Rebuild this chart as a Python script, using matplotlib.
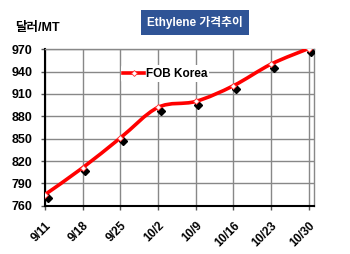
import numpy as np
import matplotlib
matplotlib.use("Agg")
import matplotlib.pyplot as plt
from matplotlib.path import Path
from matplotlib.patches import PathPatch
from matplotlib.lines import Line2D
from matplotlib import transforms

# data
dates = ["9/11", "9/18", "9/25", "10/2", "10/9", "10/16", "10/23", "10/30"]
fob_korea = [775, 811, 851, 892, 900, 921, 950, 971]
yticks = [760, 790, 820, 850, 880, 910, 940, 970]

fonts = ["Liberation Sans", "Noto Sans CJK KR", "DejaVu Sans"]
plt.rcParams["font.family"] = fonts

fig = plt.figure(figsize=(3.5, 2.54), dpi=100)
ax = fig.add_axes([0.1286, 0.19, 0.7684, 0.616])

x = np.arange(len(dates))
y = np.array(fob_korea, dtype=float)

# smooth line like excel: bezier through the points
verts = [(x[0], y[0])]
codes = [Path.MOVETO]
n = len(x)
for i in range(n - 1):
    p0 = np.array([x[max(i - 1, 0)], y[max(i - 1, 0)]])
    p1 = np.array([x[i], y[i]])
    p2 = np.array([x[i + 1], y[i + 1]])
    p3 = np.array([x[min(i + 2, n - 1)], y[min(i + 2, n - 1)]])
    c1 = p1 + (p2 - p0) / 6
    c2 = p2 - (p3 - p1) / 6
    verts += [tuple(c1), tuple(c2), tuple(p2)]
    codes += [Path.CURVE4] * 3
ax.add_patch(PathPatch(Path(verts, codes), facecolor="none", edgecolor="#ff0000",
                       lw=2.6, zorder=4, capstyle="round"))

# black shadow diamonds
shadow = transforms.offset_copy(ax.transData, fig=fig, x=2.5, y=-3.5, units="dots")
ax.plot(x, y, ls="none", marker="D", ms=4.5, color="black", transform=shadow, zorder=3)
ax.plot(x, y, ls="none", marker="D", ms=3.0, mfc="white", mec="#ff3030", mew=0.6, zorder=5)

ax.set_xlim(0, 7.14)
ax.set_ylim(760, 970)
ax.set_xticks(x)
ax.set_xticklabels(dates, rotation=45, ha="right", rotation_mode="anchor",
                   fontsize=8.5, fontweight="bold")
ax.set_yticks(yticks)
ax.set_yticklabels([str(v) for v in yticks], fontsize=9, fontweight="bold")
ax.tick_params(axis="both", length=3, width=1, color="#555555")
ax.tick_params(axis="x", pad=7)
ax.tick_params(axis="y", pad=6)
ax.grid(True, color="#888888", lw=1.0)
ax.set_axisbelow(True)
for s in ["left", "bottom"]:
    ax.spines[s].set_color("black")
    ax.spines[s].set_linewidth(1.5)
for s in ["top", "right"]:
    ax.spines[s].set_color("#888888")
    ax.spines[s].set_linewidth(1.0)

# legend
h = Line2D([], [], color="#ff0000", lw=2.6, marker="D", ms=3.0, mfc="white",
           mec="#ff3030", mew=0.6)
leg = ax.legend([h], ["FOB Korea"], loc="upper left", bbox_to_anchor=(0.26, 0.935),
                frameon=True, framealpha=1, edgecolor="none", facecolor="white",
                handlelength=1.8, handletextpad=0.1, borderpad=0.2,
                prop={"size": 8.5, "weight": "bold"})

# title box and unit label
fig.text(0.557, 0.913, "Ethylene 가격추이", ha="center", va="center", color="white",
         fontsize=8.5, fontweight="bold",
         bbox=dict(boxstyle="square,pad=0.5", fc="#2f5496", ec="none"))
fig.text(0.042, 0.89, "달러/MT", ha="left", va="center", fontsize=9, fontweight="bold")

fig.savefig("out.png", dpi=100)
